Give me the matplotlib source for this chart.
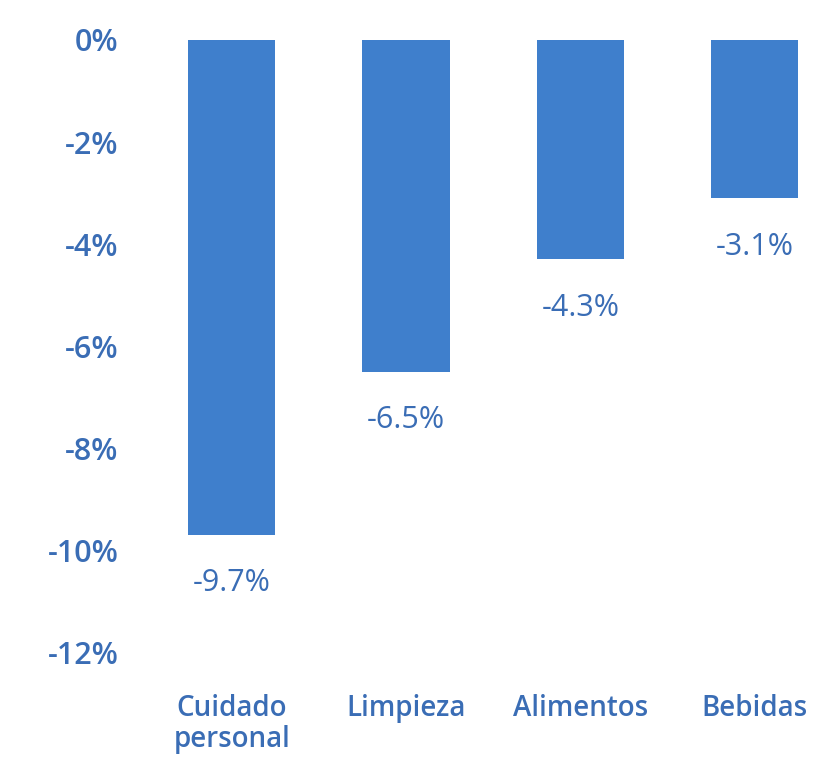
import numpy as np
from matplotlib import pyplot as plt
from matplotlib.ticker import FuncFormatter

categories = ['Cuidado\npersonal', 'Limpieza', 'Alimentos', 'Bebidas']
values = [-9.7, -6.5, -4.3, -3.1]
labels = ['-9.7%', '-6.5%', '-4.3%', '-3.1%']
yticks = [0, -2, -4, -6, -8, -10, -12]

bar_color = '#3f7fcc'
text_color = '#3a6db5'

plt.rcParams['font.family'] = ['Open Sans', 'DejaVu Sans']

fig = plt.figure(figsize=(8.21, 7.69), dpi=100)
ax = fig.add_axes([0.158, 0.152, 0.842, 0.796])

x = np.arange(len(categories))
bars = ax.bar(x, values, width=0.5, color=bar_color)

for xi, v, lab in zip(x, values, labels):
    ax.annotate(lab, (xi, v), xytext=(0, -35), textcoords='offset points',
                ha='center', va='center', fontsize=22, color=text_color)

ax.set_ylim(-12, 0)
ax.set_xlim(-0.585, 3.38)
ax.set_yticks(yticks)
ax.yaxis.set_major_formatter(FuncFormatter(lambda v, p: '%d%%' % v))
ax.set_xticks(x)
ax.set_xticklabels(categories, linespacing=1.1)

for s in ax.spines.values():
    s.set_visible(False)
ax.tick_params(axis='both', length=0, labelcolor=text_color)
ax.tick_params(axis='y', pad=8, labelsize=22)
ax.tick_params(axis='x', pad=30, labelsize=20)
for t in ax.get_yticklabels() + ax.get_xticklabels():
    t.set_fontweight('semibold')

fig.savefig('out.png', dpi=100)
